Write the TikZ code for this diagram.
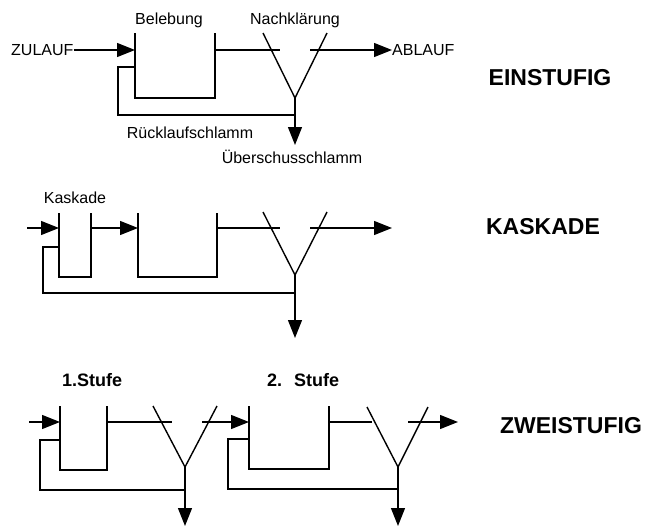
\documentclass[tikz,border=0pt]{standalone}
\usepackage{fontspec}
\setmainfont{Liberation Sans}
\usetikzlibrary{arrows.meta}
\begin{document}
\begin{tikzpicture}[x=1pt,y=-1pt,
  pipe/.style={line width=1.4pt,line join=miter},
  arr/.style={pipe,-{Triangle[length=18pt,width=14pt]}},
  lbl/.style={inner sep=0pt,font=\fontsize{16}{18}\selectfont},
  big/.style={inner sep=0pt,font=\fontsize{23}{25}\selectfont\bfseries},
  mid/.style={inner sep=0pt,font=\fontsize{18}{20}\selectfont\bfseries}]
\useasboundingbox (0,0) rectangle (646,528);

% ---------------- EINSTUFIG ----------------
\node[lbl,anchor=west] (zulauf) at (11,50) {ZULAUF};
\node[lbl] (belebung) at (169,20) {Belebung};
\node[lbl] (nachkl) at (295,20) {Nachklärung};
\node[lbl,anchor=west] (ablauf) at (392,50) {ABLAUF};
\node[lbl] (rueck) at (190,133) {Rücklaufschlamm};
\node[lbl] (ueber) at (292,157) {Überschusschlamm};
\node[big] (einst) at (550,78) {EINSTUFIG};

\coordinate (a1tl) at (135,33); \coordinate (a1bl) at (135,98);
\coordinate (a1br) at (215,98); \coordinate (a1tr) at (215,33);
\draw[pipe] (a1tl) -- (a1bl) -- (a1br) -- (a1tr);
\coordinate (a1in) at (135,50); \coordinate (a1out) at (215,50);
\draw[arr] (zulauf.east) -- (a1in);
\coordinate (c1la) at (263,33); \coordinate (c1v) at (295,98); \coordinate (c1ra) at (327,33);
\draw[pipe] (c1la) -- (c1v) -- (c1ra);
\coordinate (c1e1) at (280,50); \coordinate (c1e2) at (310,50);
\draw[pipe] (a1out) -- (c1e1);
\draw[arr] (c1e2) -- (ablauf.west);
\coordinate (c1s) at (295,145);
\draw[arr] (c1v) -- (c1s);
\coordinate (r1a) at (295,115); \coordinate (r1b) at (118,115);
\coordinate (r1c) at (118,67); \coordinate (r1d) at (135,67);
\draw[pipe] (r1a) -- (r1b) -- (r1c) -- (r1d);

% ---------------- KASKADE ----------------
\node[lbl] (kaskade) at (75,198) {Kaskade};
\node[big] (kask) at (543,227) {KASKADE};

\coordinate (k0) at (27,228);
\coordinate (k1tl) at (59,213); \coordinate (k1bl) at (59,277);
\coordinate (k1br) at (91,277); \coordinate (k1tr) at (91,213);
\draw[pipe] (k1tl) -- (k1bl) -- (k1br) -- (k1tr);
\coordinate (k1in) at (59,228); \coordinate (k1out) at (91,228);
\draw[arr] (k0) -- (k1in);
\coordinate (k2tl) at (138,213); \coordinate (k2bl) at (138,277);
\coordinate (k2br) at (217,277); \coordinate (k2tr) at (217,213);
\draw[pipe] (k2tl) -- (k2bl) -- (k2br) -- (k2tr);
\coordinate (k2in) at (138,228); \coordinate (k2out) at (217,228);
\draw[arr] (k1out) -- (k2in);
\coordinate (c2la) at (263,212); \coordinate (c2v) at (295,275); \coordinate (c2ra) at (327,212);
\draw[pipe] (c2la) -- (c2v) -- (c2ra);
\coordinate (c2e1) at (280,228); \coordinate (c2e2) at (310,228); \coordinate (c2e3) at (392,228);
\draw[pipe] (k2out) -- (c2e1);
\draw[arr] (c2e2) -- (c2e3);
\coordinate (c2s) at (295,338);
\draw[arr] (c2v) -- (c2s);
\coordinate (r2a) at (295,293); \coordinate (r2b) at (43,293);
\coordinate (r2c) at (43,247); \coordinate (r2d) at (59,247);
\draw[pipe] (r2a) -- (r2b) -- (r2c) -- (r2d);

% ---------------- ZWEISTUFIG ----------------
\node[mid,anchor=west] (stufe1) at (62,380) {1.Stufe};
\node[mid,anchor=west] (stufe2) at (267,380) {2.\hspace{12pt}Stufe};
\node[big] (zweist) at (571,426) {ZWEISTUFIG};

\coordinate (z0) at (29,422);
\coordinate (z1tl) at (60,406); \coordinate (z1bl) at (60,470);
\coordinate (z1br) at (107,470); \coordinate (z1tr) at (107,406);
\draw[pipe] (z1tl) -- (z1bl) -- (z1br) -- (z1tr);
\coordinate (z1in) at (60,422); \coordinate (z1out) at (107,422);
\draw[arr] (z0) -- (z1in);
\coordinate (c3la) at (153,406); \coordinate (c3v) at (185,467); \coordinate (c3ra) at (217,406);
\draw[pipe] (c3la) -- (c3v) -- (c3ra);
\coordinate (c3e1) at (172,422); \coordinate (c3e2) at (202,422);
\draw[pipe] (z1out) -- (c3e1);
\coordinate (z2tl) at (249,406); \coordinate (z2bl) at (249,469);
\coordinate (z2br) at (329,469); \coordinate (z2tr) at (329,406);
\draw[pipe] (z2tl) -- (z2bl) -- (z2br) -- (z2tr);
\coordinate (z2in) at (249,422); \coordinate (z2out) at (329,422);
\draw[arr] (c3e2) -- (z2in);
\coordinate (c3s) at (185,526);
\draw[arr] (c3v) -- (c3s);
\coordinate (r3a) at (185,490); \coordinate (r3b) at (40,490);
\coordinate (r3c) at (40,440); \coordinate (r3d) at (60,440);
\draw[pipe] (r3a) -- (r3b) -- (r3c) -- (r3d);

\coordinate (c4la) at (367,407); \coordinate (c4v) at (398,467); \coordinate (c4ra) at (428,407);
\draw[pipe] (c4la) -- (c4v) -- (c4ra);
\coordinate (c4e1) at (372,422); \coordinate (c4e2) at (408,422); \coordinate (c4e3) at (458,422);
\draw[pipe] (z2out) -- (c4e1);
\draw[arr] (c4e2) -- (c4e3);
\coordinate (c4s) at (398,526);
\draw[arr] (c4v) -- (c4s);
\coordinate (r4a) at (398,489); \coordinate (r4b) at (228,489);
\coordinate (r4c) at (228,439); \coordinate (r4d) at (249,439);
\draw[pipe] (r4a) -- (r4b) -- (r4c) -- (r4d);
\end{tikzpicture}
\end{document}
